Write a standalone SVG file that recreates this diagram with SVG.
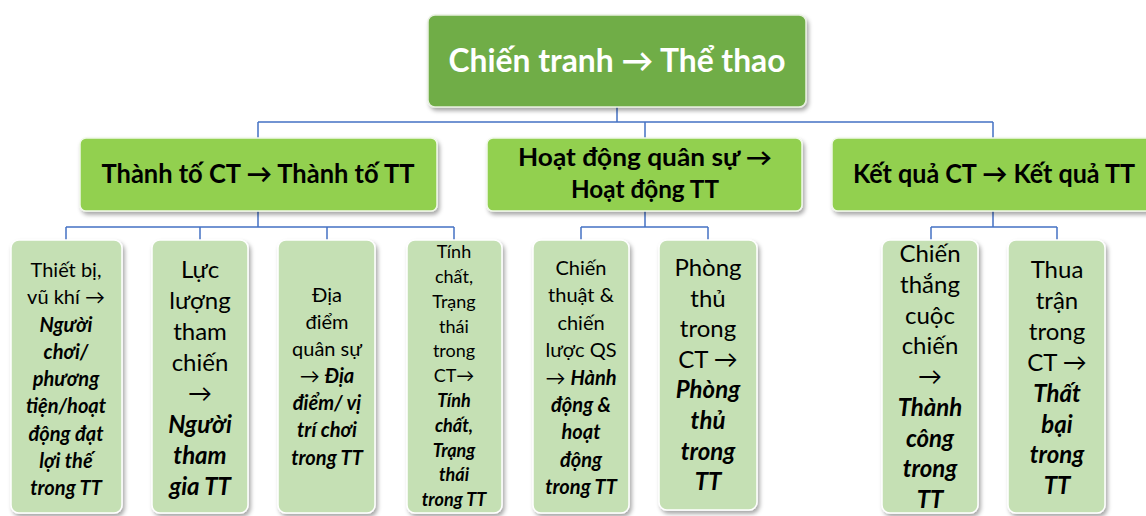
<svg xmlns="http://www.w3.org/2000/svg" width="1146" height="516" viewBox="0 0 1146 516">
<style>
.root{fill:#70AD47;stroke:#E8F0E0;stroke-width:1.5}
.l2{fill:#92D050;stroke:#F0F8E8;stroke-width:1.5}
.l3{fill:#C5E0B4;stroke:#FFFFFF;stroke-width:1.5}
.conn{fill:none;stroke:#4472C4;stroke-width:1.5}
text{font-family:Lato,"Noto Sans","Open Sans",sans-serif;text-anchor:middle;fill:#000}
.h{font-weight:bold}
.w{fill:#FFFFFF}
.bi{font-weight:bold;font-style:italic}
.s18{font-size:18px}.s20{font-size:20px}.s24{font-size:24px}
</style>
<defs>
<filter id="sh" x="-10%" y="-10%" width="130%" height="130%">
<feDropShadow dx="2" dy="3" stdDeviation="2" flood-color="#000" flood-opacity="0.35"/>
</filter>
</defs>
<rect width="1146" height="516" fill="#FFFFFF"/>
<g id="connectors">
<path class="conn" d="M617,107V122M258,122H993M258,122V138M645,122V138M993,122V138"/>
<path class="conn" d="M258,211V227M66,227H454M66,227V240M200,227V240M327,227V240M454,227V240"/>
<path class="conn" d="M645,211V227M581,227H708M581,227V240M708,227V240"/>
<path class="conn" d="M993,211V227M931,227H1057M931,227V240M1057,227V240"/>
</g>
<g id="root">
<rect class="root" x="428" y="15" width="378" height="92" rx="7" filter="url(#sh)"/>
<text class="h w" x="617" y="72" font-size="32" textLength="337" lengthAdjust="spacingAndGlyphs">Chiến tranh  → Thể thao</text>
</g>
<g id="thanhto">
<rect class="l2" x="80" y="138" width="357" height="73" rx="6" filter="url(#sh)"/>
<text class="h" x="258" y="183" font-size="26" textLength="313" lengthAdjust="spacingAndGlyphs">Thành tố CT → Thành tố TT</text>
</g>
<g id="hoatdong">
<rect class="l2" x="487" y="138" width="315" height="73" rx="6" filter="url(#sh)"/>
<text class="h" font-size="24"><tspan x="645" y="166" textLength="254" lengthAdjust="spacingAndGlyphs">Hoạt động quân sự →</tspan><tspan x="645" y="198" textLength="148" lengthAdjust="spacingAndGlyphs">Hoạt động TT</tspan></text>
</g>
<g id="ketqua">
<rect class="l2" x="832" y="138" width="322" height="73" rx="6" filter="url(#sh)"/>
<text class="h" x="994" y="183" font-size="26" textLength="282" lengthAdjust="spacingAndGlyphs">Kết quả CT → Kết quả TT</text>
</g>
<g id="n1">
<rect class="l3" x="11" y="240" width="111" height="273" rx="8" filter="url(#sh)"/>
<text class="s20"><tspan x="66" y="277">Thiết bị,</tspan><tspan x="66" y="304">vũ khí →</tspan><tspan class="bi" x="66" y="332">Người</tspan><tspan class="bi" x="66" y="359">chơi/</tspan><tspan class="bi" x="66" y="386">phương</tspan><tspan class="bi" x="66" y="413">tiện/hoạt</tspan><tspan class="bi" x="66" y="441">động đạt</tspan><tspan class="bi" x="66" y="468">lợi thế</tspan><tspan class="bi" x="66" y="495">trong TT</tspan></text>
</g>
<g id="n2">
<rect class="l3" x="152" y="240" width="96" height="273" rx="8" filter="url(#sh)"/>
<text class="s24"><tspan x="200" y="278">Lực</tspan><tspan x="200" y="309">lượng</tspan><tspan x="200" y="340">tham</tspan><tspan x="200" y="371">chiến</tspan><tspan x="200" y="402">→</tspan><tspan class="bi" x="200" y="433">Người</tspan><tspan class="bi" x="200" y="464">tham</tspan><tspan class="bi" x="200" y="495">gia TT</tspan></text>
</g>
<g id="n3">
<rect class="l3" x="278" y="240" width="97" height="273" rx="8" filter="url(#sh)"/>
<text class="s20"><tspan x="327" y="302">Địa</tspan><tspan x="327" y="329">điểm</tspan><tspan x="327" y="356">quân sự</tspan><tspan x="327" y="383">→ <tspan class="bi">Địa</tspan></tspan><tspan class="bi" x="327" y="410">điểm/ vị</tspan><tspan class="bi" x="327" y="437">trí chơi</tspan><tspan class="bi" x="327" y="465">trong TT</tspan></text>
</g>
<g id="n4">
<rect class="l3" x="407" y="240" width="95" height="273" rx="8" filter="url(#sh)"/>
<text class="s18"><tspan x="454" y="258">Tính</tspan><tspan x="454" y="283">chất,</tspan><tspan x="454" y="308">Trạng</tspan><tspan x="454" y="333">thái</tspan><tspan x="454" y="357">trong</tspan><tspan x="454" y="382">CT→</tspan><tspan class="bi" x="454" y="407">Tính</tspan><tspan class="bi" x="454" y="432">chất,</tspan><tspan class="bi" x="454" y="457">Trạng</tspan><tspan class="bi" x="454" y="481">thái</tspan><tspan class="bi" x="454" y="506">trong TT</tspan></text>
</g>
<g id="n5">
<rect class="l3" x="533" y="240" width="96" height="273" rx="8" filter="url(#sh)"/>
<text class="s20"><tspan x="581" y="275">Chiến</tspan><tspan x="581" y="302">thuật &amp;</tspan><tspan x="581" y="330">chiến</tspan><tspan x="581" y="357">lược QS</tspan><tspan x="581" y="385">→ <tspan class="bi">Hành</tspan></tspan><tspan class="bi" x="581" y="412">động &amp;</tspan><tspan class="bi" x="581" y="439">hoạt</tspan><tspan class="bi" x="581" y="467">động</tspan><tspan class="bi" x="581" y="494">trong TT</tspan></text>
</g>
<g id="n6">
<rect class="l3" x="659" y="240" width="98" height="270" rx="8" filter="url(#sh)"/>
<text class="s24"><tspan x="708" y="276">Phòng</tspan><tspan x="708" y="307">thủ</tspan><tspan x="708" y="337">trong</tspan><tspan x="708" y="368">CT →</tspan><tspan class="bi" x="708" y="398">Phòng</tspan><tspan class="bi" x="708" y="429">thủ</tspan><tspan class="bi" x="708" y="460">trong</tspan><tspan class="bi" x="708" y="490">TT</tspan></text>
</g>
<g id="n7">
<rect class="l3" x="882" y="240" width="96" height="273" rx="8" filter="url(#sh)"/>
<text class="s24"><tspan x="930" y="262">Chiến</tspan><tspan x="930" y="293">thắng</tspan><tspan x="930" y="324">cuộc</tspan><tspan x="930" y="354">chiến</tspan><tspan x="930" y="385">→</tspan><tspan class="bi" x="930" y="416">Thành</tspan><tspan class="bi" x="930" y="447">công</tspan><tspan class="bi" x="930" y="477">trong</tspan><tspan class="bi" x="930" y="508">TT</tspan></text>
</g>
<g id="n8">
<rect class="l3" x="1008" y="240" width="97" height="273" rx="8" filter="url(#sh)"/>
<text class="s24"><tspan x="1057" y="278">Thua</tspan><tspan x="1057" y="309">trận</tspan><tspan x="1057" y="340">trong</tspan><tspan x="1057" y="371">CT →</tspan><tspan class="bi" x="1057" y="402">Thất</tspan><tspan class="bi" x="1057" y="433">bại</tspan><tspan class="bi" x="1057" y="463">trong</tspan><tspan class="bi" x="1057" y="494">TT</tspan></text>
</g>
</svg>
